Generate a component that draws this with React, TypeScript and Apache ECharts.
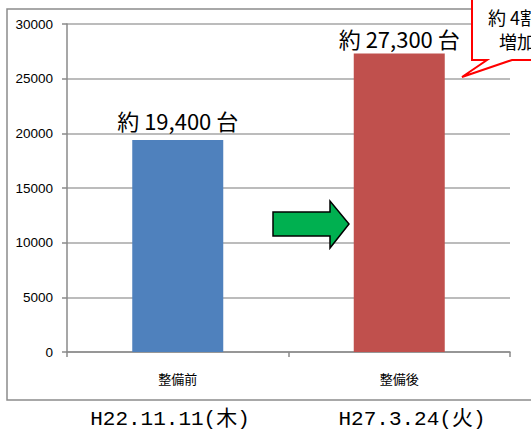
import React, { useEffect, useRef } from "react";
import * as echarts from "echarts";

const categories = ["整備前", "整備後"];
const values = [19400, 27300];
const valueLabels = ["約 19,400 台", "約 27,300 台"];
const barColors = ["#4f81bd", "#c0504d"];
const labelGaps = [9, 5];
const dateLabels = ["H22.11.11(木)", "H27.3.24(火)"];
const calloutLines = ["約 4割", "増加"];

export default function App() {
  const ref = useRef<HTMLDivElement>(null);
  useEffect(() => {
    if (!ref.current) return;
    const chart = echarts.init(ref.current, null, { renderer: "svg" });
    chart.setOption({
      animation: false,
      backgroundColor: "#ffffff",
      grid: { left: 67, top: 24, right: 21, bottom: 83, containLabel: false },
      xAxis: {
        type: "category",
        data: categories,
        boundaryGap: true,
        axisLine: { lineStyle: { color: "#8a8a8a", width: 1.5 } },
        axisTick: { show: true, length: 5, lineStyle: { color: "#8a8a8a", width: 1.5 } },
        axisLabel: {
          margin: 20,
          fontSize: 13,
          lineHeight: 13,
          color: "#000",
          fontFamily: "Noto Sans CJK JP",
        },
      },
      yAxis: {
        type: "value",
        min: 0,
        max: 30000,
        interval: 5000,
        axisLine: { show: true, lineStyle: { color: "#8a8a8a", width: 1.5 } },
        axisTick: { show: true, length: 5, lineStyle: { color: "#8a8a8a", width: 1.5 } },
        axisLabel: {
          margin: 14,
          fontSize: 13.5,
          color: "#000",
          fontFamily: "Liberation Sans",
          formatter: (v: number) => String(v),
        },
        splitLine: { show: true, lineStyle: { color: "#a6a6a6", width: 1.5 } },
      },
      series: [
        {
          type: "bar",
          barWidth: 91,
          data: values.map((v, i) => ({
            value: v,
            itemStyle: { color: barColors[i] },
            label: { distance: labelGaps[i] },
          })),
          label: {
            show: true,
            position: "top",
            fontSize: 22,
            color: "#000",
            fontFamily: "Noto Sans CJK JP",
            formatter: (p: any) => valueLabels[p.dataIndex],
          },
        },
      ],
      graphic: [
        {
          type: "rect",
          shape: { x: 7, y: 9, width: 540, height: 391 },
          style: { fill: "none", stroke: "#8c8c8c", lineWidth: 1.5 },
          silent: true,
          z: 0,
        },
        {
          type: "polygon",
          shape: {
            points: [
              [273, 212],
              [330, 212],
              [330, 201],
              [349, 224],
              [330, 248],
              [330, 236],
              [273, 236],
            ],
          },
          style: { fill: "#00b050", stroke: "#000", lineWidth: 1.5 },
          z: 10,
        },
        {
          type: "polygon",
          shape: {
            points: [
              [472, -5],
              [545, -5],
              [545, 60],
              [512, 60],
              [462, 77],
              [487, 60],
              [472, 60],
            ],
          },
          style: { fill: "#ffffff", stroke: "#ff0000", lineWidth: 2 },
          z: 10,
        },
        {
          type: "text",
          x: 488,
          y: 17,
          style: {
            text: calloutLines[0],
            fontSize: 18,
            lineHeight: 18,
            fontFamily: "Noto Sans CJK JP",
            fill: "#000",
            verticalAlign: "middle",
          },
          z: 11,
        },
        {
          type: "text",
          x: 499,
          y: 41,
          style: {
            text: calloutLines[1],
            fontSize: 18,
            lineHeight: 18,
            fontFamily: "Noto Sans CJK JP",
            fill: "#000",
            verticalAlign: "middle",
          },
          z: 11,
        },
        {
          type: "text",
          x: 170,
          y: 419,
          style: {
            text: dateLabels[0],
            fontSize: 21,
            fontFamily: "Liberation Mono, Noto Sans CJK JP",
            fill: "#000",
            align: "center",
            verticalAlign: "middle",
          },
        },
        {
          type: "text",
          x: 412,
          y: 419,
          style: {
            text: dateLabels[1],
            fontSize: 21,
            fontFamily: "Liberation Mono, Noto Sans CJK JP",
            fill: "#000",
            align: "center",
            verticalAlign: "middle",
          },
        },
      ],
    });
    return () => chart.dispose();
  }, []);
  return (
    <div
      ref={ref}
      style={{ position: "absolute", left: 0, top: 0, width: 531, height: 435 }}
    />
  );
}
